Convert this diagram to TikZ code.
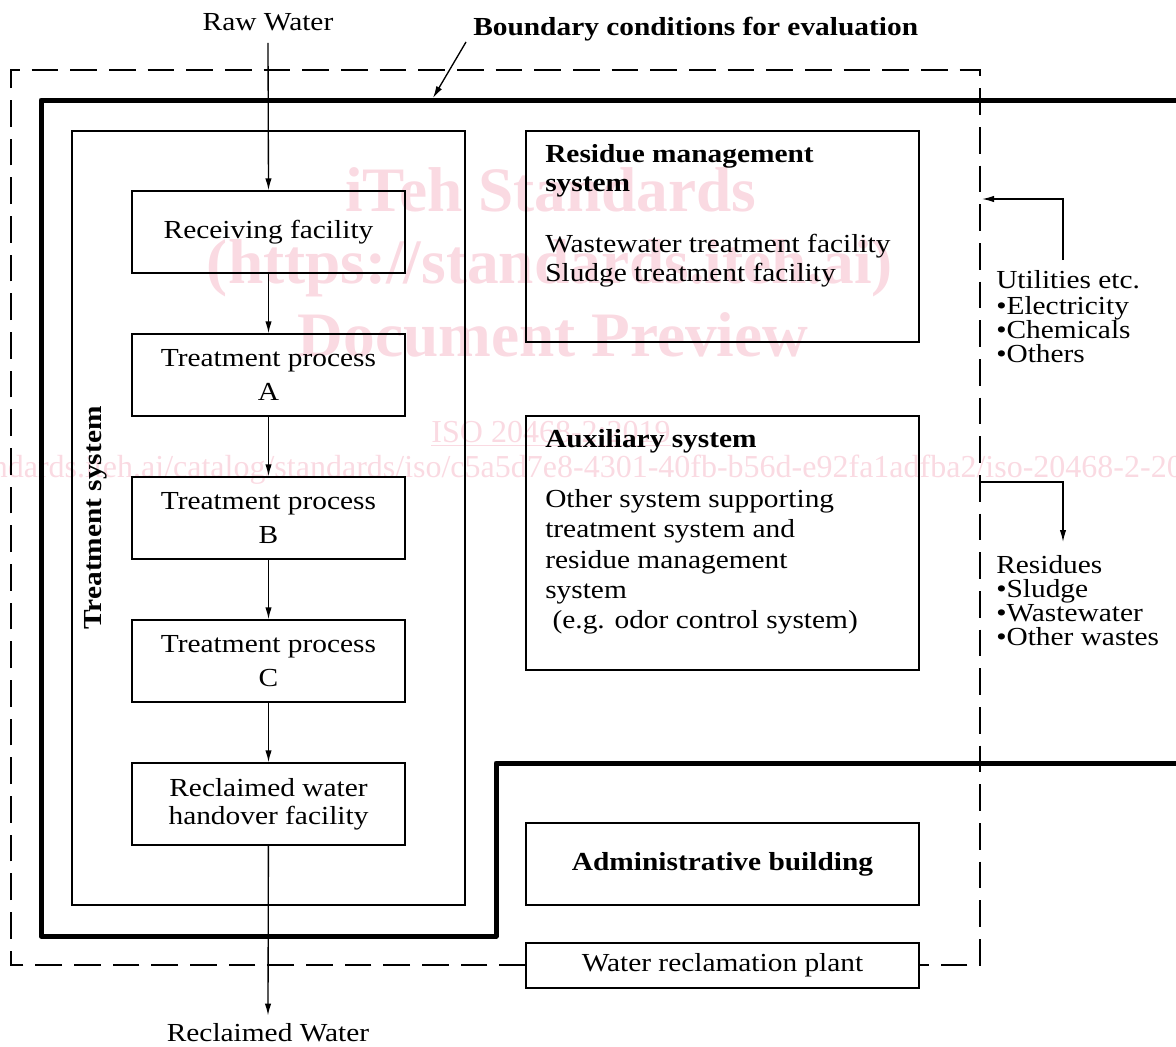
\documentclass[tikz,border=0pt]{standalone}
\usepackage{fontspec}
\setmainfont{Liberation Serif}[FakeStretch=1.13]
\newfontfamily\wmfont{Liberation Serif}
\usetikzlibrary{arrows.meta}
\definecolor{wm}{RGB}{250,218,226}
\begin{document}
\begin{tikzpicture}[x=0.75pt,y=-0.75pt,
  every node/.style={font=\fontsize{19.5}{22}\selectfont},
  arr/.style={line width=1pt,-{Latex[length=9pt,width=4.8pt]}},
  box/.style={draw,line width=1pt,inner sep=0pt,align=center,minimum width=204.75pt,minimum height=61.5pt},
  bigbox/.style={draw,line width=1pt,inner sep=0pt,minimum width=294.75pt},
  txt/.style={anchor=base west,inner sep=0pt},
  btxt/.style={anchor=base west,inner sep=0pt,font=\fontsize{19.5}{22}\selectfont\bfseries},
  dashb/.style={line width=1.7pt,dash pattern=on 20pt off 9pt},
  thick/.style={line width=3.75pt,line join=round},
  wmt/.style={text=wm,inner sep=0pt}]
\useasboundingbox (0,0) rectangle (1176,1046);
\clip (0,0) rectangle (1176,1046);
% watermark
\node[wmt,font=\fontsize{47.5}{52}\wmfont\bfseries] (wm1) at (551,190) {iTeh Standards};
\node[wmt,font=\fontsize{47.5}{52}\wmfont\bfseries] (wm2) at (550,268) {(https://standards.iteh.ai)};
\node[wmt,font=\fontsize{47.5}{52}\wmfont\bfseries] (wm3) at (553,335) {Document Preview};
\node[wmt,font=\fontsize{24}{27}\wmfont] (wm4) at (551,432) {ISO 20468-2:2019};
\draw[wm,line width=1pt] ([yshift=-2pt]wm4.south west) -- ([yshift=-2pt]wm4.south east);
\node[wmt,font=\fontsize{24}{27}\wmfont] (wm5) at (541,470) {https://standards.iteh.ai/catalog/standards/iso/c5a5d7e8-4301-40fb-b56d-e92fa1adfba2/iso-20468-2-2019};
% boundaries
\draw[dashb] (526,965) -- (11,965) -- (11,70) -- (980,70) -- (980,965) -- (919,965);
\draw[thick] (1180,100) -- (41,100) -- (41,936) -- (496,936) -- (496,763) -- (1180,763);
% treatment system
\node[bigbox,minimum height=580.5pt] (ts) at (268.5,518) {};
\node[rotate=90,inner sep=0pt,font=\fontsize{19.5}{22}\selectfont\bfseries] (tsl) at (96,518) {Treatment system};
\node[box] (rf) at (268.5,232) {Receiving facility};
\node[box] (ta) at (268.5,375) {Treatment process\\[3pt]A};
\node[box] (tb) at (268.5,518) {Treatment process\\[3pt]B};
\node[box] (tc) at (268.5,661) {Treatment process\\[3pt]C};
\node[box] (rh) at (268.5,804) {Reclaimed water\\[-1pt]handover facility};
\node[inner sep=0pt] (raw) at (268,22) {Raw Water};
\node[inner sep=0pt] (rw) at (268,1033) {Reclaimed Water};
\draw[arr] ([yshift=-9pt]raw.south) -- (rf.north);
\draw[arr] (rf) -- (ta);
\draw[arr] (ta) -- (tb);
\draw[arr] (tb) -- (tc);
\draw[arr] (tc) -- (rh);
\draw[arr] (rh) -- ([yshift=6pt]rw.north);
% leader
\node[btxt] (bc) at (473,35) {Boundary conditions for evaluation};
\coordinate (l0) at (466,42);
\coordinate (l1) at (433,98);
\draw[arr] (l0) -- (l1);
% residue management
\node[bigbox,minimum height=158.25pt] (rm) at (722.5,236.5) {};
\node[btxt] (rm1) at (545,162) {Residue management};
\node[btxt] (rm2) at (545,191) {system};
\node[txt] (rm3) at (545,252) {Wastewater treatment facility};
\node[txt] (rm4) at (545,281) {Sludge treatment facility};
% auxiliary
\node[bigbox,minimum height=190.5pt] (ax) at (722.5,543) {};
\node[btxt] (ax1) at (545,447) {Auxiliary system};
\node[txt] (ax2) at (545,507) {Other system supporting};
\node[txt] (ax3) at (545,537) {treatment system and};
\node[txt] (ax4) at (545,568) {residue management};
\node[txt] (ax5) at (545,598) {system};
\node[txt] (ax6) at (545,628) {\ (e.g. odor control system)};
% admin
\node[bigbox,minimum height=61.5pt,font=\fontsize{19.5}{22}\selectfont\bfseries] (ad) at (722.5,864) {Administrative building};
\node[bigbox,minimum height=33.75pt,fill=white] (wrp) at (722.5,965.5) {Water reclamation plant};
% utilities
\node[txt] (u1) at (996,288) {Utilities etc.};
\node[txt] (u2) at (996,314) {•Electricity};
\node[txt] (u3) at (996,338) {•Chemicals};
\node[txt] (u4) at (996,362) {•Others};
\coordinate (ua) at (1063,260);
\coordinate (ub) at (982,199);
\draw[arr] (ua) |- (ub);
% residues
\node[txt] (r1) at (996,573) {Residues};
\node[txt] (r2) at (996,597) {•Sludge};
\node[txt] (r3) at (996,621) {•Wastewater};
\node[txt] (r4) at (996,645) {•Other wastes};
\coordinate (ra) at (981,482);
\coordinate (rb) at (1063,542);
\draw[arr] (ra) -| (rb);
\end{tikzpicture}
\end{document}
